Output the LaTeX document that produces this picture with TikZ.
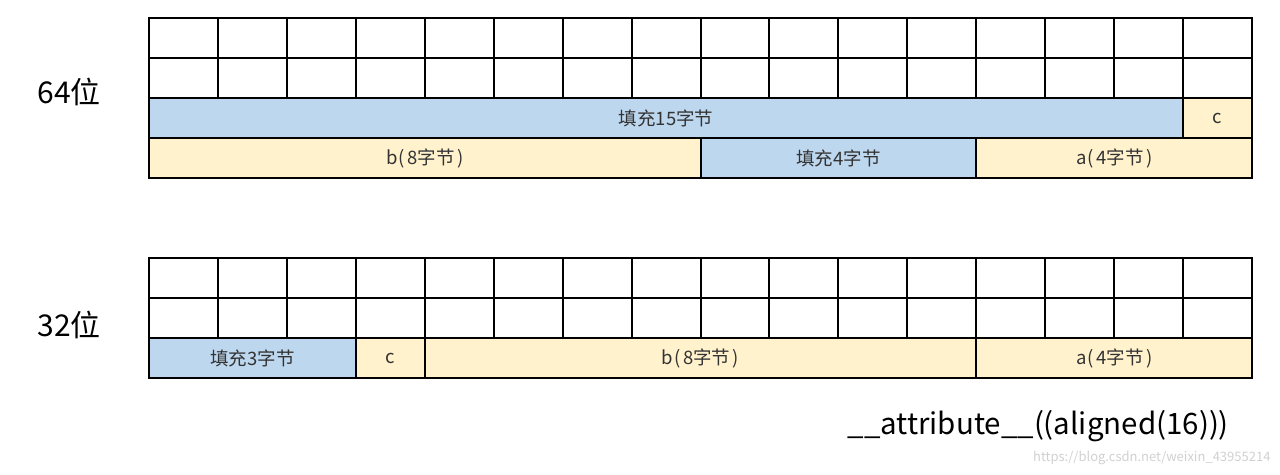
\documentclass[tikz,border=0pt]{standalone}
\usepackage{fontspec}
\setmainfont{Noto Sans CJK SC}
\definecolor{padblue}{HTML}{BDD7EE}
\definecolor{datayel}{HTML}{FFF2CC}
\newcommand{\lp}{\kern1pt(\kern2.5pt}
\newcommand{\rp}{\kern2.5pt)}
\begin{document}
\begin{tikzpicture}[x=1pt,y=-1pt,
  cell/.style={draw=black,line width=2pt,fill=white},
  pad/.style={draw=black,line width=2pt,fill=padblue},
  dat/.style={draw=black,line width=2pt,fill=datayel},
  lbl/.style={font=\fontsize{18.5}{21}\selectfont,text=black!80},
  big/.style={font=\fontsize{30}{34}\selectfont,text=black}]
\useasboundingbox[fill=white] (0,0) rectangle (1280,474);
\def\L{149}\def\W{68.94}
% top table: two empty rows
\foreach \y in {18,58}{
  \foreach \c in {0,...,15}{
    \draw[cell] ({\L+\c*\W},\y) rectangle ({\L+(\c+1)*\W},{\y+40});
  }}
\draw[pad] (\L,98) rectangle ({\L+15*\W},138) node[midway,lbl] (p15) {填充15字节};
\draw[dat] ({\L+15*\W},98) rectangle ({\L+16*\W},138) node[midway,lbl] (c64) {c};
\draw[dat] (\L,138) rectangle ({\L+8*\W},178) node[midway,lbl] (b64) {b\lp8字节\rp};
\draw[pad] ({\L+8*\W},138) rectangle ({\L+12*\W},178) node[midway,lbl] (p4) {填充4字节};
\draw[dat] ({\L+12*\W},138) rectangle ({\L+16*\W},178) node[midway,lbl] (a64) {a\lp4字节\rp};
% bottom table
\foreach \y in {258,298}{
  \foreach \c in {0,...,15}{
    \draw[cell] ({\L+\c*\W},\y) rectangle ({\L+(\c+1)*\W},{\y+40});
  }}
\draw[pad] (\L,338) rectangle ({\L+3*\W},378) node[midway,lbl] (p3) {填充3字节};
\draw[dat] ({\L+3*\W},338) rectangle ({\L+4*\W},378) node[midway,lbl] (c32) {c};
\draw[dat] ({\L+4*\W},338) rectangle ({\L+12*\W},378) node[midway,lbl] (b32) {b\lp8字节\rp};
\draw[dat] ({\L+12*\W},338) rectangle ({\L+16*\W},378) node[midway,lbl] (a32) {a\lp4字节\rp};
% labels
\node[big,anchor=west] (l64) at (34,92) {64位};
\node[big,anchor=west] (l32) at (34,325) {32位};
\node[big,anchor=west,font=\fontsize{29.5}{34}\selectfont] (attr) at (844,426) {\_\_attribute\_\_((aligned(16)))};
\node[anchor=east,font=\fontsize{13}{15}\selectfont,text=black!18] (wm) at (1274,458) {https://blog.csdn.net/weixin\_43955214};
\end{tikzpicture}
\end{document}
